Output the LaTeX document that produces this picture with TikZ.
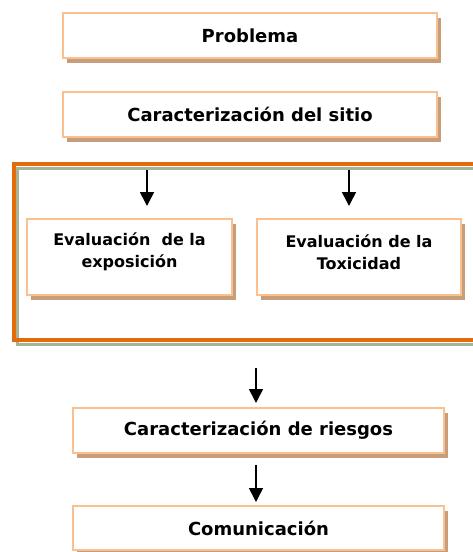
\documentclass[tikz,border=0pt]{standalone}
\usepackage{fontspec}
\setmainfont{DejaVu Sans}
\usetikzlibrary{arrows.meta,shadows}
\definecolor{boxline}{RGB}{250,192,143}
\definecolor{boxshadow}{RGB}{200,158,122}
\definecolor{frameorange}{RGB}{227,108,10}
\definecolor{framegreen}{RGB}{168,178,150}
\tikzset{
  stepbox/.style={draw=boxline, line width=2pt, fill=white, rectangle, inner sep=0pt,
    drop shadow={shadow xshift=4pt, shadow yshift=-5pt, fill=boxshadow, opacity=1, shadow scale=1},
    font=\bfseries\fontsize{18}{22}\selectfont},
  evalbox/.style={stepbox, font=\bfseries\fontsize{16}{22}\selectfont},
  evaltext/.style={align=center, inner sep=0pt, font=\bfseries\fontsize{16}{22}\selectfont},
  flow/.style={line width=1.6pt, -{Triangle[width=14pt,length=14pt]}}
}
\begin{document}
\begin{tikzpicture}[x=1pt,y=-1pt]
\useasboundingbox (0,0) rectangle (473,552);
\clip (0,0) rectangle (473,552);
% frame
\draw[framegreen, line width=3pt] (17.5,168) rectangle (486,344);
\draw[frameorange, line width=4pt] (13.5,164) rectangle (482,340);
% boxes
\node[stepbox, minimum width=374pt, minimum height=45pt] (prob) at (250,35.5) {Problema};
\node[stepbox, minimum width=374pt, minimum height=45pt] (sitio) at (250,114.5) {Caracterización del sitio};
\node[evalbox, minimum width=205pt, minimum height=76pt] (expo) at (129.5,257) {};
\node[evaltext] (expot) at (129.5,252) {Evaluación\ \ de la\\exposición};
\node[evalbox, minimum width=204pt, minimum height=76pt] (toxi) at (359,257) {};
\node[evaltext] (toxit) at (359,252) {Evaluación de la\\Toxicidad};
\node[stepbox, minimum width=371pt, minimum height=45pt] (ries) at (258.5,430.5) {Caracterización de riesgos};
\node[stepbox, minimum width=371pt, minimum height=44pt] (comu) at (258.5,528) {Comunicación};
% arrows
\coordinate (a1s) at (147,170);
\coordinate (a1e) at (147,206);
\coordinate (a2s) at (349,170);
\coordinate (a2e) at (349,206);
\coordinate (a3s) at (256,368);
\coordinate (a4s) at (256,465);
\draw[flow] (a1s) -- (a1e);
\draw[flow] (a2s) -- (a2e);
\draw[flow] (a3s) -- ([yshift=4pt]ries.north -| a3s);
\draw[flow] (a4s) -- ([yshift=3pt]comu.north -| a4s);
\end{tikzpicture}
\end{document}
